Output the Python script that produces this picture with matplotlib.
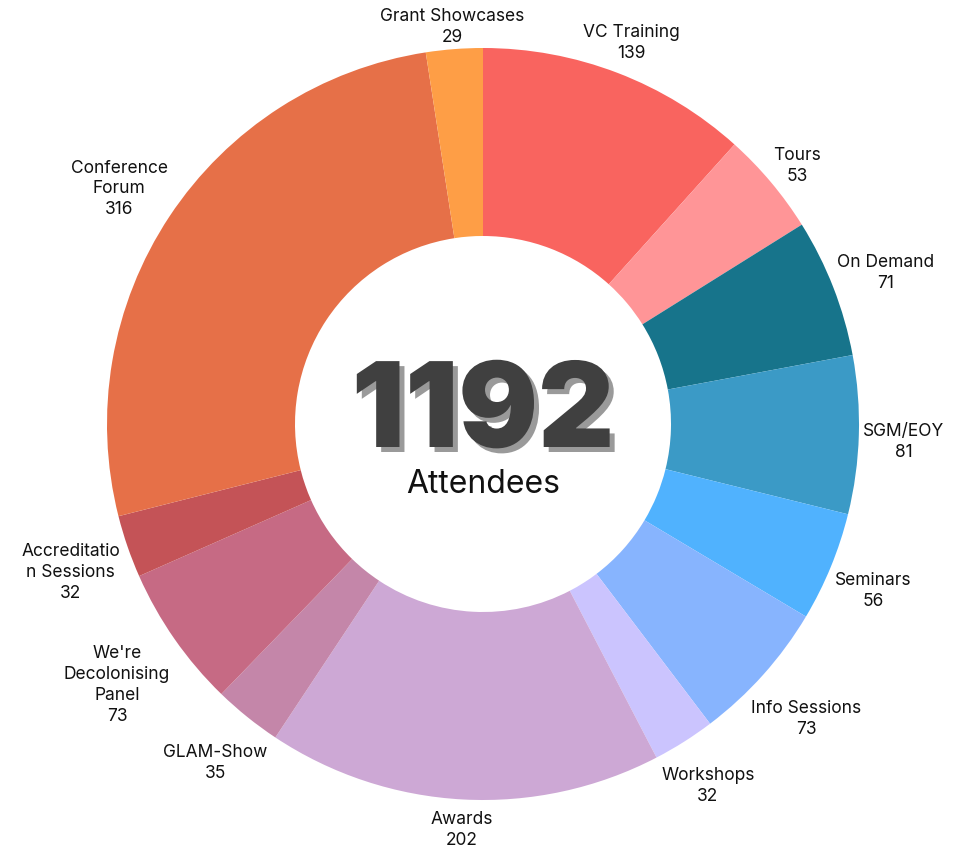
import numpy as np
import matplotlib.pyplot as plt
import matplotlib.patheffects as pe

plt.rcParams['font.family'] = ['Inter', 'DejaVu Sans']

# slices, clockwise from 12 o'clock
labels = ['VC Training', 'Tours', 'On Demand', 'SGM/EOY', 'Seminars', 'Info Sessions',
          'Workshops', 'Awards', 'GLAM-Show', "We're\nDecolonising\nPanel",
          'Accreditatio\nn Sessions', 'Conference\nForum', 'Grant Showcases']
attendees = [139, 53, 71, 81, 56, 73, 32, 202, 35, 73, 32, 316, 29]
colors = ['#F9645F', '#FF9597', '#17748B', '#3B9AC6', '#50B2FE', '#87B4FE', '#CBC4FE',
          '#CDA8D5', '#C486A9', '#C66A84', '#C45357', '#E67048', '#FE9E46']

total = sum(attendees)

W, H = 958, 849
fig = plt.figure(figsize=(W / 100, H / 100), dpi=100)
ax = fig.add_axes([0, 0, 1, 1])

cx, cy, R = 483, H - 424, 376
wedges, _ = ax.pie(attendees, colors=colors, startangle=90, counterclock=False,
                   center=(cx, cy), radius=R,
                   wedgeprops=dict(width=R * 0.5, linewidth=0))
ax.set_xlim(0, W)
ax.set_ylim(0, H)
ax.set_aspect('equal')
ax.axis('off')

# labels outside the ring, pushed out radially by the size of their box
renderer = fig.canvas.get_renderer()
r0 = R * 1.01
for w, lab, v in zip(wedges, labels, attendees):
    ang = np.deg2rad((w.theta1 + w.theta2) / 2)
    t = ax.text(cx, cy, f'{lab}\n{v}', ha='center', va='center', fontsize=12.5,
                color='#111111', linespacing=1.3)
    bb = t.get_window_extent(renderer)
    r = r0 + abs(np.cos(ang)) * bb.width / 2 + abs(np.sin(ang)) * bb.height / 2
    t.set_position((cx + r * np.cos(ang), cy + r * np.sin(ang) - 6))

# total in the middle with a drop shadow
shadow = [pe.withSimplePatchShadow(offset=(3.6, -3.6), shadow_rgbFace='#9A9A9A', alpha=1)]
ax.text(cx, H - 447, str(total), ha='center', va='baseline', fontsize=85,
        fontweight='black', color='#404040', path_effects=shadow)
ax.text(cx, H - 493, 'Attendees', ha='center', va='baseline', fontsize=23,
        color='#111111')

fig.savefig('out.png', dpi=100)
